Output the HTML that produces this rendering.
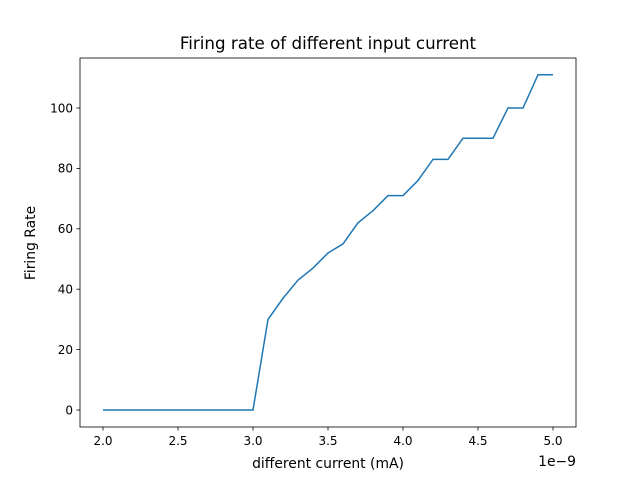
<!DOCTYPE html>
<html><head><meta charset="utf-8"><style>
body{margin:0;background:#fff;}
svg text{font-family:"DejaVu Sans","Liberation Sans",sans-serif;fill:#000;}
</style></head><body>
<svg id="chart" width="640" height="480">
<rect width="640" height="480" fill="#fff"/>
<text x="328" y="49" font-size="16.7" text-anchor="middle">Firing rate of different input current</text>
<g id="plot"></g>
<rect x="80" y="58" width="496" height="369" fill="none" stroke="#000" stroke-width="0.8"/>
<text x="328" y="468" font-size="13.9" text-anchor="middle">different current (mA)</text>
<text x="0" y="0" font-size="13.9" text-anchor="middle" transform="translate(35,243) rotate(-90)">Firing Rate</text>
<text x="576" y="466" font-size="13.9" text-anchor="end">1e−9</text>
</svg>
<script>
const xValues=[2.0,2.1,2.2,2.3,2.4,2.5,2.6,2.7,2.8,2.9,3.0,3.1,3.2,3.3,3.4,3.5,3.6,3.7,3.8,3.9,4.0,4.1,4.2,4.3,4.4,4.5,4.6,4.7,4.8,4.9,5.0];
const rates=[0,0,0,0,0,0,0,0,0,0,0,30,37,43,47,52,55,62,66,71,71,76,83,83,90,90,90,100,100,111,111];
const xTicks=[2.0,2.5,3.0,3.5,4.0,4.5,5.0];
const xTickLabels=["2.0","2.5","3.0","3.5","4.0","4.5","5.0"];
const yTicks=[0,20,40,60,80,100];
const yTickLabels=["0","20","40","60","80","100"];
const sx=v=>103+(v-2.0)*150;
const sy=v=>410-v*3.02;
const g=document.getElementById('plot');
const NS='http://www.w3.org/2000/svg';
function mk(t,a){const e=document.createElementNS(NS,t);for(const k in a)e.setAttribute(k,a[k]);g.appendChild(e);return e;}
xTicks.forEach((v,i)=>{
 const l=mk('line',{x1:sx(v),x2:sx(v),y1:427,y2:430.5,stroke:'#000','stroke-width':0.8});
 
 
 const t=mk('text',{x:sx(v),y:445,'font-size':12,'text-anchor':'middle'});
 t.textContent=xTickLabels[i];
 
 
});
yTicks.forEach((v,i)=>{
 const l=mk('line',{x1:76.5,x2:80,y1:sy(v),y2:sy(v),stroke:'#000','stroke-width':0.8});
 
 
 const t=mk('text',{x:73,y:sy(v)+4.3,'font-size':12,'text-anchor':'end'});
 t.textContent=yTickLabels[i];
 
 
});
const p=mk('polyline',{points:xValues.map((x,i)=>sx(x)+','+sy(rates[i])).join(' '),fill:'none',stroke:'#1f77b4','stroke-width':1.5});


</script>
</body></html>
